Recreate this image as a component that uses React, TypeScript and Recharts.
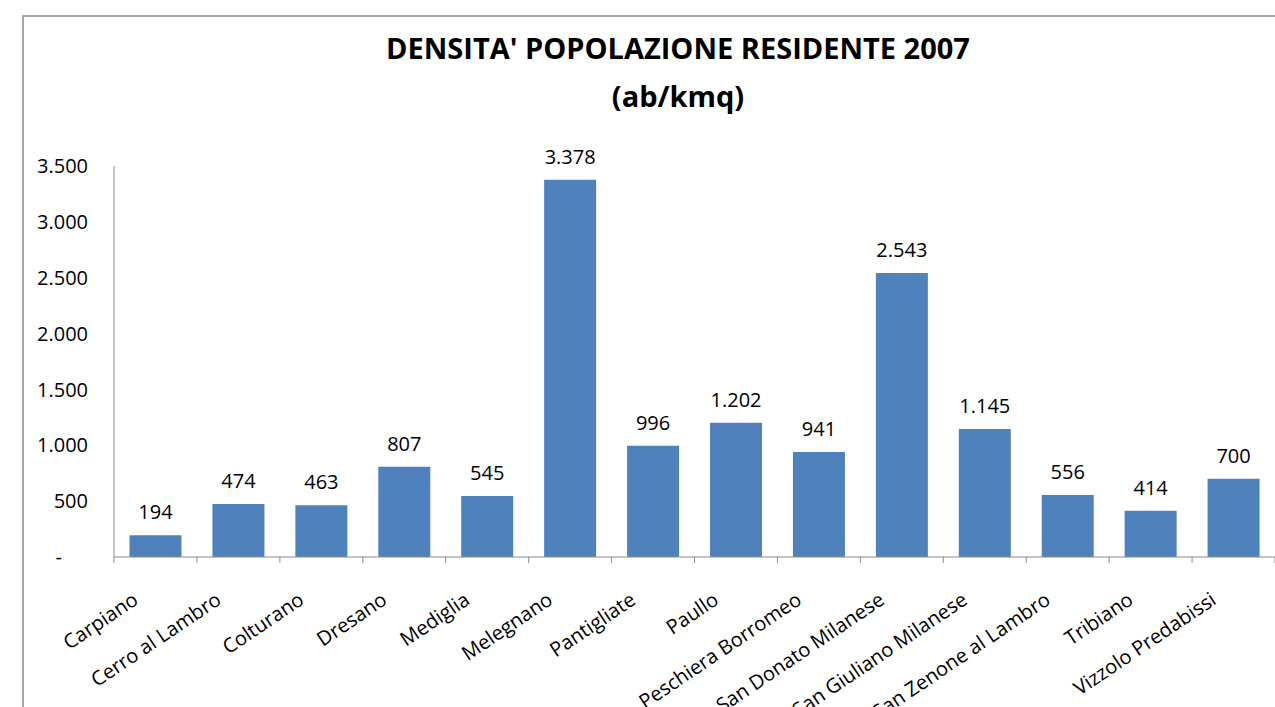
import { BarChart, Bar, XAxis, YAxis, LabelList } from 'recharts';

const comuni = [
  'Carpiano', 'Cerro al Lambro', 'Colturano', 'Dresano', 'Mediglia', 'Melegnano',
  'Pantigliate', 'Paullo', 'Peschiera Borromeo', 'San Donato Milanese',
  'San Giuliano Milanese', 'San Zenone al Lambro', 'Tribiano', 'Vizzolo Predabissi',
];
const densita = [194, 474, 463, 807, 545, 3378, 996, 1202, 941, 2543, 1145, 556, 414, 700];
const yTicks = [0, 500, 1000, 1500, 2000, 2500, 3000, 3500];

const chartData = comuni.map((nome, i) => ({ nome, densita: densita[i] }));

const FONT = '"Open Sans", sans-serif';
const AXIS = '#8a8a8a';

// formato italiano: 3.378
const fmt = (v: number) => String(v).replace(/\B(?=(\d{3})+(?!\d))/g, '.');
const fmtY = (v: number) => (v === 0 ? '-\u00A0\u00A0\u00A0\u00A0\u00A0' : fmt(v));

function CategoryTick(props: any) {
  const { x, y, payload, index } = props;
  const half = payload.offset ?? 0;
  const last = index === comuni.length - 1;
  const tx = x - 16;
  const ty = y + 46;
  return (
    <g>
      <line x1={x - half} x2={x - half} y1={y} y2={y + 6} stroke={AXIS} />
      {last && <line x1={x + half} x2={x + half} y1={y} y2={y + 6} stroke={AXIS} />}
      <text
        x={tx}
        y={ty}
        textAnchor="end"
        transform={`rotate(-34, ${tx}, ${ty})`}
        fontSize={20}
        fontFamily={FONT}
        fill="#000"
      >
        {payload.value}
      </text>
    </g>
  );
}

export default function App() {
  return (
    <div style={{ position: 'fixed', left: 0, top: 0, width: 1275, height: 707, overflow: 'hidden', background: '#fff' }}>
      <div style={{ position: 'absolute', left: 22, top: 15, width: 1400, height: 900, borderTop: '2px solid #a6a6a6', borderLeft: '2px solid #a6a6a6' }} />

      {/* titolo */}
      <div style={{ position: 'absolute', left: 328, width: 700, top: 24, textAlign: 'center', fontFamily: FONT, fontWeight: 700, fontSize: 29, lineHeight: '48px', color: '#000' }}>
        <div>DENSITA' POPOLAZIONE RESIDENTE 2007</div>
        <div>(ab/kmq)</div>
      </div>

      <div style={{ position: 'absolute', left: 0, top: 0 }}>
        <BarChart
          width={1300}
          height={800}
          data={chartData}
          margin={{ top: 166, right: 25, left: 0, bottom: 143 }}
          barCategoryGap="18.7%"
        >
          <XAxis
            dataKey="nome"
            interval={0}
            height={100}
            tickLine={false}
            tickSize={0}
            tickMargin={0}
            axisLine={{ stroke: AXIS }}
            tick={<CategoryTick />}
          />
          <YAxis
            width={114}
            domain={[0, 3500]}
            ticks={yTicks}
            tickFormatter={fmtY}
            tickLine={false}
            tickSize={0}
            tickMargin={26}
            axisLine={{ stroke: AXIS }}
            tick={{ fontSize: 20, fontFamily: FONT, fill: '#000' }}
          />
          <Bar dataKey="densita" fill="#4F81BD" isAnimationActive={false}>
            <LabelList
              dataKey="densita"
              position="top"
              offset={16}
              formatter={(v: any) => fmt(Number(v))}
              style={{ fontSize: 20, fontFamily: FONT, fill: '#000' }}
            />
          </Bar>
        </BarChart>
      </div>
    </div>
  );
}
